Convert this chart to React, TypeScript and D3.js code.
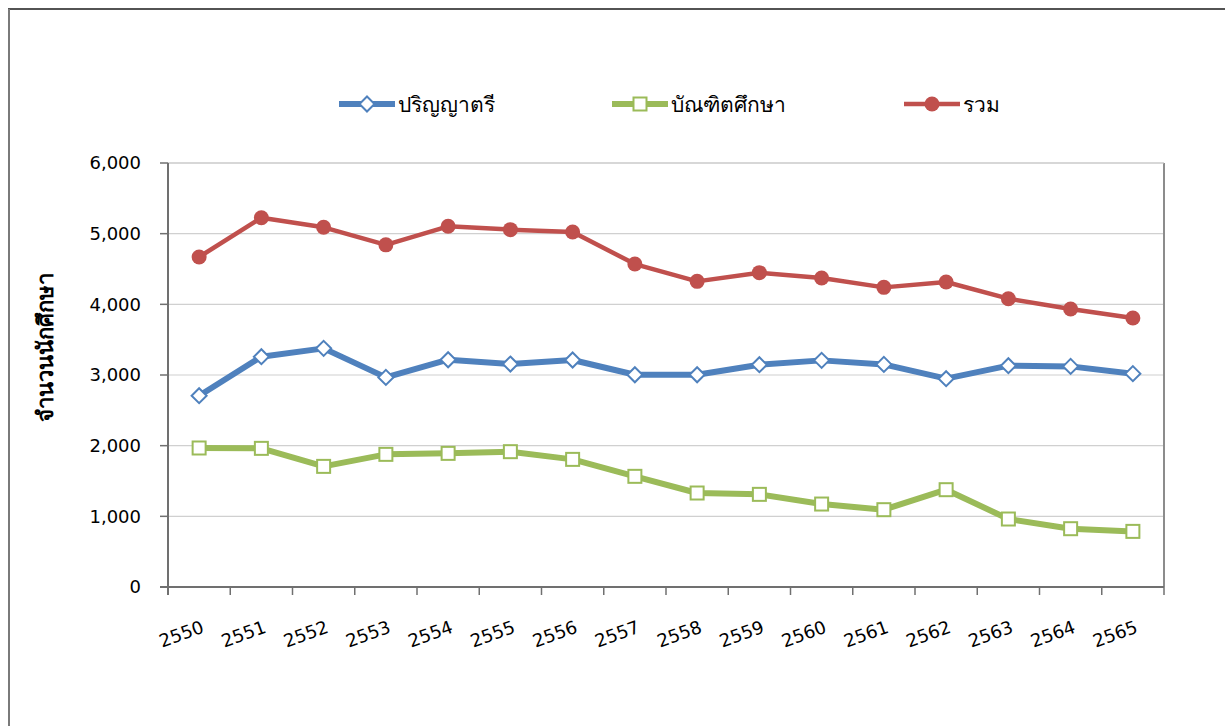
import React from "react";
import * as d3 from "d3";

const years = ["2550","2551","2552","2553","2554","2555","2556","2557","2558","2559","2560","2561","2562","2563","2564","2565"];
const bachelor = [2707, 3259, 3377, 2966, 3216, 3155, 3212, 3004, 3004, 3146, 3207, 3150, 2948, 3132, 3122, 3019];
const graduate = [1967, 1962, 1707, 1877, 1891, 1915, 1806, 1566, 1330, 1311, 1174, 1094, 1377, 962, 825, 787];
const total = [4670, 5225, 5090, 4842, 5104, 5057, 5024, 4570, 4325, 4448, 4372, 4240, 4316, 4080, 3934, 3806];
const yTicks = [0, 1000, 2000, 3000, 4000, 5000, 6000];
const seriesNames = ["ปริญญาตรี", "บัณฑิตศึกษา", "รวม"];
const yTitle = "จำนวนนักศึกษา";

const FONT = "Tahoma, 'DejaVu Sans', Verdana, sans-serif";
const BLUE = "#4F81BD";
const GREEN = "#9BBB59";
const RED = "#C0504D";

function Marker({ kind, x, y }: { kind: string; x: number; y: number }) {
  if (kind === "diamond") {
    const r = 7.5;
    return (
      <path
        d={`M${x},${y - r}L${x + r},${y}L${x},${y + r}L${x - r},${y}Z`}
        fill="#fff"
        stroke={BLUE}
        strokeWidth={2}
      />
    );
  }
  if (kind === "square") {
    const s = 13;
    return <rect x={x - s / 2} y={y - s / 2} width={s} height={s} fill="#fff" stroke={GREEN} strokeWidth={2} />;
  }
  return <circle cx={x} cy={y} r={7.5} fill={RED} />;
}

export default function App() {
  const left = 168, right = 1164, top = 163, bottom = 587;
  const x = d3.scaleBand<string>().domain(years).range([left, right]);
  const y = d3.scaleLinear().domain([0, 6000]).range([bottom, top]);
  const bw = x.bandwidth();
  const cx = (yr: string) => (x(yr) as number) + bw / 2;
  const line = d3.line<number>().x((_, i) => cx(years[i])).y((d) => y(d));

  const series = [
    { name: seriesNames[0], values: bachelor, color: BLUE, width: 6, marker: "diamond" },
    { name: seriesNames[1], values: graduate, color: GREEN, width: 6, marker: "square" },
    { name: seriesNames[2], values: total, color: RED, width: 4.5, marker: "circle" },
  ];
  const legendX = [339, 612, 904];
  const legendY = 104;

  const xTickPos = [...years.map((yr) => x(yr) as number), right];

  return (
    <svg width={1225} height={726} style={{ position: "absolute", left: 0, top: 0 }} fontFamily={FONT}>
      <rect x={0} y={0} width={1225} height={726} fill="#fff" />
      {/* outer frame */}
      <line x1={8} x2={1225} y1={9} y2={9} stroke="#1a1a1a" strokeWidth={1.5} />
      <line x1={9} x2={9} y1={9} y2={726} stroke="#7a7a7a" strokeWidth={2} />

      {/* gridlines */}
      {yTicks.map((t) => (
        <line key={"g" + t} x1={left} x2={right} y1={y(t)} y2={y(t)} stroke="#d0d0d0" strokeWidth={1.2} />
      ))}
      {/* plot border right */}
      <line x1={right} x2={right} y1={top} y2={bottom} stroke="#8c8c8c" strokeWidth={2} />
      <line x1={left} x2={right} y1={top} y2={top} stroke="#c8c8c8" strokeWidth={1.2} />

      {/* y axis */}
      <line x1={left} x2={left} y1={top} y2={bottom + 8} stroke="#707070" strokeWidth={2} />
      {yTicks.map((t) => (
        <g key={"yt" + t}>
          <line x1={left - 8} x2={left} y1={y(t)} y2={y(t)} stroke="#707070" strokeWidth={1.5} />
          <text x={141} y={y(t)} dy="0.36em" textAnchor="end" fontSize={18} fill="#000">
            {d3.format(",")(t)}
          </text>
        </g>
      ))}

      {/* x axis */}
      <line x1={left - 8} x2={right} y1={bottom} y2={bottom} stroke="#707070" strokeWidth={2} />
      {xTickPos.map((p, i) => (
        <line key={"xt" + i} x1={p} x2={p} y1={bottom} y2={bottom + 8} stroke="#707070" strokeWidth={1.5} />
      ))}
      {years.map((yr) => (
        <text
          key={"xl" + yr}
          transform={`translate(${cx(yr) + 6},${632}) rotate(-20)`}
          textAnchor="end"
          fontSize={18}
          fill="#000"
        >
          {yr}
        </text>
      ))}

      {/* y title */}
      <text
        transform={`translate(${53},${347}) rotate(-90)`}
        textAnchor="middle"
        fontSize={22}
        fontWeight="bold"
        fill="#000"
      >
        {yTitle}
      </text>

      {/* series */}
      {series.map((s) => (
        <g key={s.name}>
          <path d={line(s.values) || ""} fill="none" stroke={s.color} strokeWidth={s.width} strokeLinejoin="round" strokeLinecap="round" />
          {s.values.map((v, i) => (
            <Marker key={i} kind={s.marker} x={cx(years[i])} y={y(v)} />
          ))}
        </g>
      ))}

      {/* legend */}
      {series.map((s, i) => (
        <g key={"lg" + s.name}>
          <line x1={legendX[i]} x2={legendX[i] + 56} y1={legendY} y2={legendY} stroke={s.color} strokeWidth={s.width} />
          <Marker kind={s.marker} x={legendX[i] + 28} y={legendY} />
          <text x={legendX[i] + 59} y={legendY} dy="0.36em" fontSize={21} fill="#000">
            {s.name}
          </text>
        </g>
      ))}
    </svg>
  );
}
